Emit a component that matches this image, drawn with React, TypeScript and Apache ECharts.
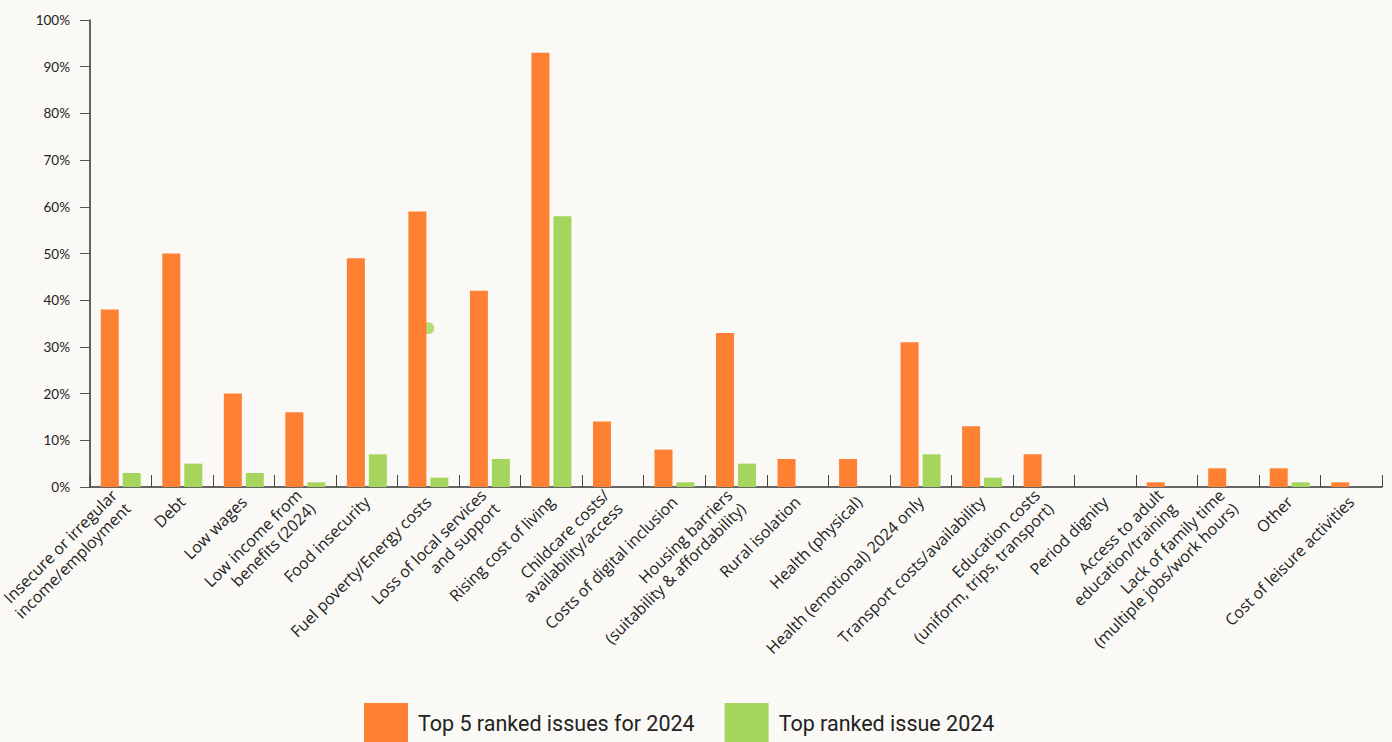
import React, { useEffect, useRef } from "react";
import * as echarts from "echarts";

const categories = [
  "Insecure or irregular\nincome/employment",
  "Debt",
  "Low wages",
  "Low income from\nbenefits (2024)",
  "Food insecurity",
  "Fuel poverty/Energy costs",
  "Loss of local services\nand support",
  "Rising cost of living",
  "Childcare costs/\navailability/access",
  "Costs of digital inclusion",
  "Housing barriers\n(suitability & affordability)",
  "Rural isolation",
  "Health (physical)",
  "Health (emotional) 2024 only",
  "Transport costs/availability",
  "Education costs\n(uniform, trips, transport)",
  "Period dignity",
  "Access to adult\neducation/training",
  "Lack of family time\n(multiple jobs/work hours)",
  "Other",
  "Cost of leisure activities",
];

const top5 = [38, 50, 20, 16, 49, 59, 42, 93, 14, 8, 33, 6, 6, 31, 13, 7, 0, 1, 4, 4, 1];
const topRanked = [3, 5, 3, 1, 7, 2, 6, 58, 0, 1, 5, 0, 0, 7, 2, 0, 0, 0, 0, 1, 0];
const strayPoint = [[5, 34]];

const seriesNames = ["Top 5 ranked issues for 2024", "Top ranked issue 2024"];

export default function App() {
  const ref = useRef<HTMLDivElement>(null);
  useEffect(() => {
    document.body.style.margin = "0";
    const chart = echarts.init(ref.current!, null, { renderer: "svg" });
    chart.setOption({
      animation: false,
      backgroundColor: "#faf9f5",
      textStyle: { fontFamily: "Lato" },
      grid: { left: 90, right: 10, top: 20, bottom: 255, containLabel: false, outerBoundsMode: "none" },
      legend: {
        data: seriesNames,
        left: 359,
        top: 698,
        itemWidth: 44,
        itemHeight: 40,
        itemGap: 30,
        icon: "rect",
        textStyle: { fontSize: 21.5, color: "#222", fontFamily: "Roboto", padding: [0, 0, 0, 5] },
      },
      xAxis: {
        type: "category",
        data: categories,
        axisLine: { lineStyle: { color: "#333", width: 1.5 } },
        axisTick: { show: true, inside: true, length: 12, lineStyle: { color: "#444", width: 1 } },
        axisLabel: {
          rotate: 45,
          interval: 0,
          fontSize: 16,
          fontFamily: "Open Sans",
          color: "#222",
          margin: 12,
          lineHeight: 19,
        },
      },
      yAxis: {
        type: "value",
        min: 0,
        max: 100,
        interval: 10,
        axisLine: { show: true, lineStyle: { color: "#333", width: 1.5 } },
        axisTick: { show: true, length: 10, lineStyle: { color: "#555" } },
        splitLine: { show: false },
        axisLabel: { formatter: "{value}%", fontSize: 13.5, color: "#222", margin: 20 },
      },
      series: [
        {
          name: "__stray",
          type: "scatter",
          data: strayPoint,
          symbolSize: 12,
          itemStyle: { color: "#a5d55d" },
          z: 1,
          silent: true,
        },
        {
          name: seriesNames[0],
          type: "bar",
          data: top5,
          barWidth: 18,
          barGap: "22%",
          itemStyle: { color: "#fe8133" },
          z: 3,
        },
        {
          name: seriesNames[1],
          type: "bar",
          data: topRanked,
          barWidth: 18,
          itemStyle: { color: "#a5d55d" },
          z: 3,
        },
      ],
    });
    return () => chart.dispose();
  }, []);
  return <div ref={ref} style={{ position: "fixed", left: 0, top: 0, width: 1392, height: 742 }} />;
}
